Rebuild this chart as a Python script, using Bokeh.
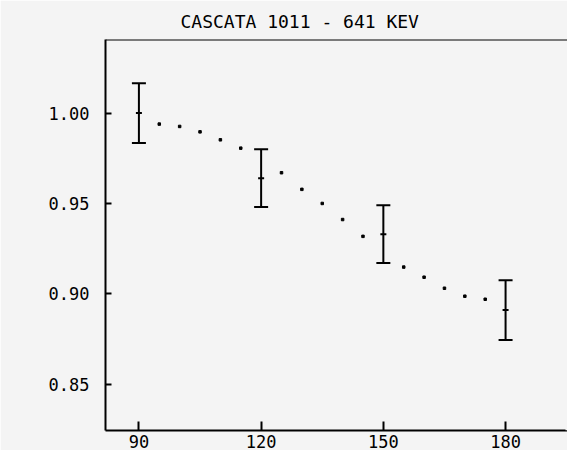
from bokeh.plotting import figure
from bokeh.models import (ColumnDataSource, Whisker, TeeHead, FixedTicker,
                          Range1d, Span)
from bokeh.embed import file_html
from bokeh.resources import INLINE

# Measured angular correlation, normalised to the 90 degree value
angles = [90, 120, 150, 180]
ratio = [1.000, 0.964, 0.933, 0.891]
ratio_err = [0.0165, 0.016, 0.016, 0.0165]

# Fitted curve, sampled every 5 degrees
fit_angle = [95, 100, 105, 110, 115, 125, 130, 135, 140, 145, 155, 160, 165, 170, 175]
fit_ratio = [0.9939, 0.9926, 0.9896, 0.9852, 0.9806, 0.9670, 0.9578, 0.9500,
             0.9411, 0.9318, 0.9148, 0.9092, 0.9031, 0.8987, 0.8970]

x_ticks = [90, 120, 150, 180]
x_tick_labels = ["90", "120", "150", "180"]
y_ticks = [0.85, 0.90, 0.95, 1.00]
y_tick_labels = ["0.85", "0.90", "0.95", "1.00"]

title_text = "CASCATA 1011 - 641 KEV"

FONT = "DejaVu Sans Mono"
BG = "#f4f4f4"

X_END = 195.2
Y_END = 1.0407

p = figure(width=567, height=450, output_backend="svg", toolbar_location=None,
           x_range=Range1d(81.8, X_END), y_range=Range1d(0.8244, Y_END),
           min_border_left=105, min_border_right=0, min_border_top=0,
           min_border_bottom=20, title=title_text)

p.title.text_font = FONT
p.title.text_font_size = "18px"
p.title.text_font_style = "normal"
p.title.text_color = "black"
p.title.align = "left"
p.title.offset = 75
p.title.standoff = 16

p.background_fill_color = BG
p.border_fill_color = BG
p.outline_line_color = None
p.outline_line_width = 0
p.outline_line_alpha = 0
p.xgrid.visible = False
p.ygrid.visible = False

for ax in (p.xaxis[0], p.yaxis[0]):
    ax.axis_line_width = 2
    ax.axis_line_color = "black"
    ax.major_tick_line_width = 2
    ax.major_tick_line_color = "black"
    ax.major_tick_out = 0
    ax.minor_tick_line_color = None
    ax.major_label_text_font = FONT
    ax.major_label_text_font_size = "17px"
    ax.major_label_text_color = "black"

p.xaxis.ticker = FixedTicker(ticks=x_ticks)
p.xaxis.major_label_overrides = dict(zip(x_ticks, x_tick_labels))
p.xaxis.major_tick_in = 9
p.xaxis.major_label_standoff = 4

p.yaxis.ticker = FixedTicker(ticks=y_ticks)
p.yaxis.major_label_overrides = dict(zip(y_ticks, y_tick_labels))
p.yaxis.major_tick_in = 6
p.yaxis.major_label_standoff = 16

# the box continues past the right edge: keep that side open
p.add_layout(Span(location=X_END, dimension="height", line_color=BG,
                  line_width=4))
# top edge of the plotting box
p.add_layout(Span(location=Y_END, dimension="width", line_color="black",
                  line_width=2))

# fitted curve as a dotted trace
p.scatter(fit_angle, fit_ratio, marker="square", size=2.5, color="black")

# error bars with a small mark at the measured value
src = ColumnDataSource(dict(
    x=angles, y=ratio,
    lo=[r - e for r, e in zip(ratio, ratio_err)],
    hi=[r + e for r, e in zip(ratio, ratio_err)],
))
p.add_layout(Whisker(source=src, base="x", lower="lo", upper="hi",
                     line_color="black", line_width=2,
                     lower_head=TeeHead(size=14, line_width=2, line_color="black"),
                     upper_head=TeeHead(size=14, line_width=2, line_color="black")))
p.scatter("x", "y", source=src, marker="dash", size=6, line_width=2,
          color="black")

open("out.html", "w").write(file_html(p, INLINE))
